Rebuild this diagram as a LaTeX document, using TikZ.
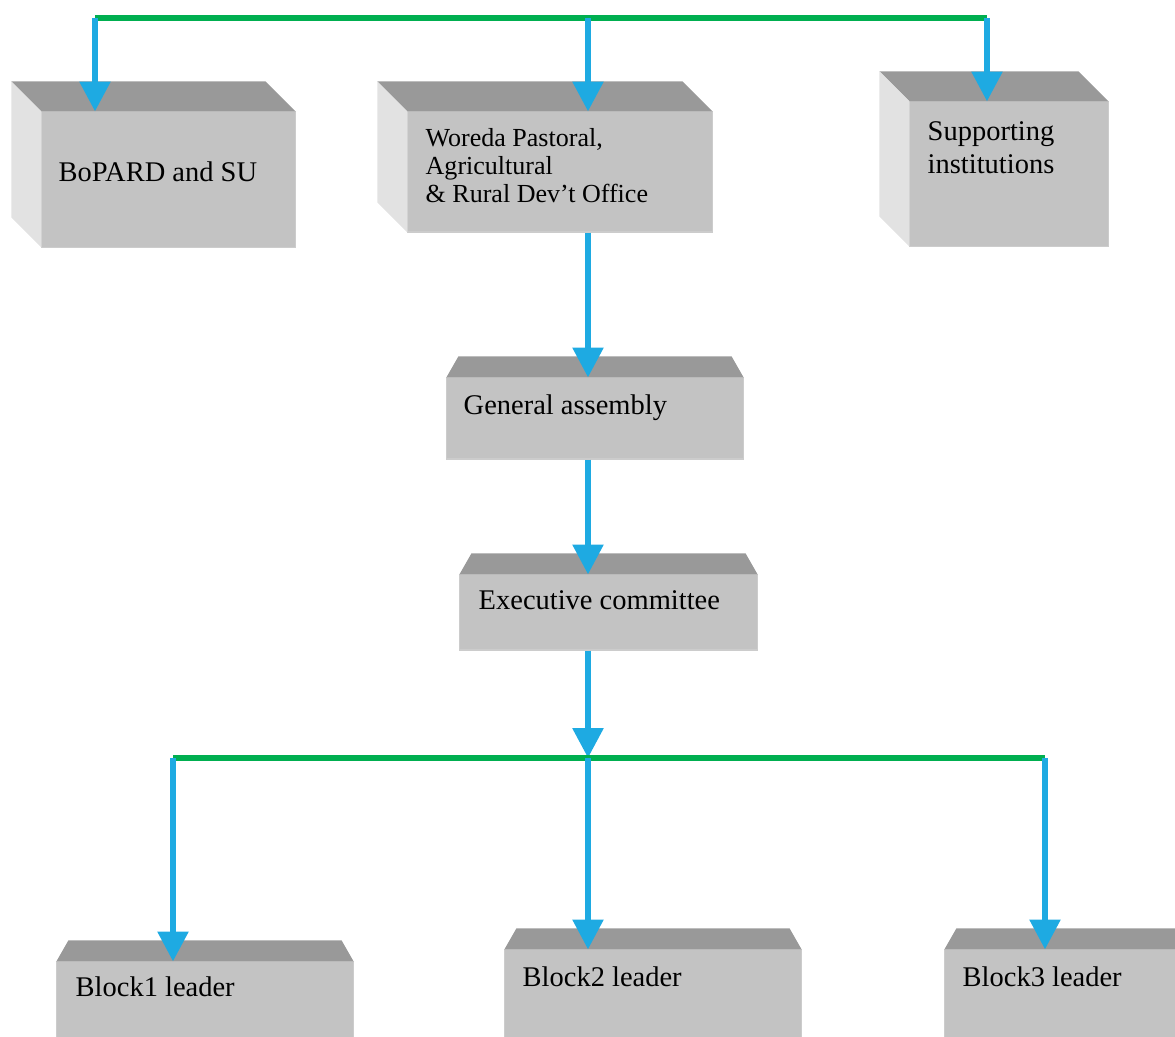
\documentclass[tikz,border=0pt]{standalone}
\usepackage{fontspec}
\setmainfont{Liberation Serif}
\usetikzlibrary{arrows.meta}
\definecolor{linkblue}{RGB}{30,170,226}
\definecolor{busgreen}{RGB}{0,175,80}
\definecolor{frontgray}{RGB}{195,195,195}
\definecolor{topgray}{RGB}{153,153,153}
\definecolor{sidegray}{RGB}{226,226,226}
\begin{document}
\begin{tikzpicture}[x=0.01cm, y=-0.01cm,
	face/.style={rectangle, fill=frontgray, draw=black!20, line width=0.3pt, inner sep=0pt},
	lbl/.style={anchor=base west, inner sep=0pt, align=left, font=\fontsize{8.1}{9}\selectfont},
	link/.style={draw=linkblue, line width=1.7pt, -{Triangle[width=8.5pt,length=8.5pt]}},
	bus/.style={draw=busgreen, line width=1.7pt}]
	\useasboundingbox (0,0) rectangle (1175,1037);
	\clip (0,0) rectangle (1175,1037);

	% front faces
	\node (bopard) at (168.5,179.5) [face, minimum width=2.53cm, minimum height=1.35cm] {};
	\node (woreda) at (560,172) [face, minimum width=3.04cm, minimum height=1.2cm] {};
	\node (support) at (1009,174) [face, minimum width=1.98cm, minimum height=1.44cm] {};
	\node (assembly) at (595,418.5) [face, minimum width=2.96cm, minimum height=0.81cm] {};
	\node (exec) at (608.5,612.5) [face, minimum width=2.97cm, minimum height=0.75cm] {};
	\node (block1) at (205,1037) [face, minimum width=2.96cm, minimum height=1.5cm] {};
	\node (block2) at (653,1025) [face, minimum width=2.96cm, minimum height=1.5cm] {};
	\node (block3) at (1093,1025) [face, minimum width=2.96cm, minimum height=1.5cm] {};

	% top and side faces
	\foreach \b in {bopard,woreda,support} {
		\fill[topgray] (\b.north west) -- (\b.north east) -- ([shift={(-30,-30)}]\b.north east) -- ([shift={(-30,-30)}]\b.north west) -- cycle;
		\fill[sidegray] (\b.north west) -- (\b.south west) -- ([shift={(-30,-30)}]\b.south west) -- ([shift={(-30,-30)}]\b.north west) -- cycle;
	}
	\foreach \b in {assembly,exec,block1,block2,block3}
		\fill[topgray] (\b.north west) -- (\b.north east) -- ([shift={(-12,-21)}]\b.north east) -- ([shift={(12,-21)}]\b.north west) -- cycle;

	% labels
	\node (bopardtxt) at (58,182) [lbl] {BoPARD and SU};
	\node (woredatxt) at (425,203) [lbl, font=\fontsize{7.4}{7.97}\selectfont] {Woreda Pastoral,\\Agricultural\\\& Rural Dev't Office};
	\node (supporttxt) at (927,174) [lbl, font=\fontsize{8.1}{9.4}\selectfont] {Supporting\\institutions};
	\node (assemblytxt) at (463,415) [lbl] {General assembly};
	\node (exectxt) at (478,610) [lbl] {Executive committee};
	\node (block1txt) at (75,997) [lbl] {Block1 leader};
	\node (block2txt) at (522,987) [lbl] {Block2 leader};
	\node (block3txt) at (962,987) [lbl] {Block3 leader};

	% connectors
	\coordinate (topl) at (95,18);
	\coordinate (topm) at (588,18);
	\coordinate (topr) at (987,18);
	\coordinate (botl) at (173,758);
	\coordinate (botm) at (588,758);
	\coordinate (botr) at (1045,758);
	\draw[bus] (topl) -- (topr);
	\draw[link] (topl) -- (topl |- bopard.north);
	\draw[link] (topm) -- (topm |- woreda.north);
	\draw[link] (topr) -- (topr |- support.north);
	\draw[link] (topm |- woreda.south) -- (topm |- assembly.north);
	\draw[link] (topm |- assembly.south) -- (topm |- exec.north);
	\draw[link] (topm |- exec.south) -- (botm);
	\draw[bus] (botl) -- (botr);
	\draw[link] (botl) -- (botl |- block1.north);
	\draw[link] (botm) -- (botm |- block2.north);
	\draw[link] (botr) -- (botr |- block3.north);
\end{tikzpicture}
\end{document}
